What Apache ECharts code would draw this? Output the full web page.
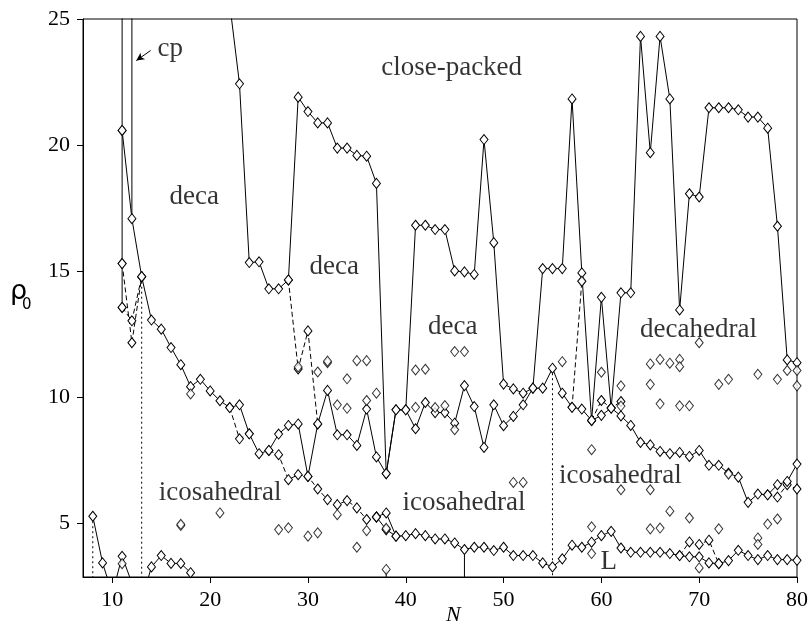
<!DOCTYPE html>
<html>
<head>
<meta charset="utf-8">
<script src="https://cdn.jsdelivr.net/npm/echarts@6/dist/echarts.min.js"></script>
<style>
html,body{margin:0;padding:0;background:#fff;}
#chart{width:811px;height:627px;}
</style>
</head>
<body>
<div id="chart"></div>
<script>
// ---- axis ticks ----
const xTicks = [10, 20, 30, 40, 50, 60, 70, 80];
const yTicks = [5, 10, 15, 20, 25];
const X_MIN = 7, X_MAX = 80, Y_MIN = 2.87, Y_MAX = 25;

// ---- solid boundary lines [N, rho0] ----
const cpBoundary = [[22,25.6],[23,22.43],[24,15.34],[25,15.37],[26,14.3],[27,14.3],[28,14.65],[29,21.9],[30,21.33],[31,20.88],[32,20.88],[33,19.88],[34,19.88],[35,19.59],[36,19.56],[37,18.48],[38,6.97],[39,9.5],[40,9.5],[41,16.82],[42,16.82],[43,16.65],[44,16.65],[45,15.01],[46,14.97],[47,14.87],[48,20.22],[49,16.13],[50,10.52],[51,10.33],[52,10.16],[53,10.36],[54,15.1],[55,15.1],[56,15.1],[57,21.83],[58,14.93],[59,9.08],[60,13.96],[61,9.57],[62,14.14],[63,14.14],[64,24.31],[65,19.7],[66,24.31],[67,21.83],[68,13.46],[69,18.07],[70,17.94],[71,21.48],[72,21.48],[73,21.48],[74,21.4],[75,21.11],[76,21.11],[77,20.67],[78,16.78],[79,11.48],[80,11.37]];
const decaBoundary = [[11,20.58],[12,17.08],[13,14.78],[14,13.06],[15,12.7],[16,11.97],[17,11.29],[18,10.42],[19,10.71],[20,10.25],[21,9.86],[22,9.59],[23,9.7],[24,8.55],[25,7.76],[26,7.89],[27,8.54],[28,8.88],[29,8.94],[30,6.86],[31,8.94],[32,10.27],[33,8.51],[34,8.51],[35,8.09],[36,9.53],[37,7.63],[38,6.97],[39,9.5],[40,9.5],[41,8.75],[42,9.79],[43,9.39],[44,9.39],[45,8.97],[46,10.46],[47,9.63],[48,8.01],[49,9.7],[50,8.87],[51,9.24],[52,9.7],[53,10.36],[54,10.36],[55,11.15],[56,10.16],[57,9.6],[58,9.53],[59,9.08],[60,9.28],[61,9.57],[62,9.26],[63,8.88],[64,8.21],[65,8.11],[66,7.85],[67,7.76],[68,7.81],[69,7.65],[70,7.89],[71,7.3],[72,7.3],[73,6.99],[74,6.83],[75,5.83],[76,6.16],[77,6.13],[78,6.53],[79,6.66],[80,7.35]];
const icosLower = [[37,5.25],[38,5.41],[39,4.49],[40,4.51],[41,4.59],[42,4.51],[43,4.38],[44,4.38],[45,4.22],[46,3.96],[47,4.05],[48,4.05],[49,3.92],[50,4.05],[51,3.72],[52,3.72],[53,3.72],[54,3.43],[55,3.27],[56,3.59],[57,4.13],[58,4.05],[59,4.25],[60,4.51],[61,4.68],[62,4.02],[63,3.85],[64,3.85],[65,3.85],[66,3.85],[67,3.8],[68,3.72],[69,3.67],[70,3.67],[71,3.43],[72,3.4],[73,3.52],[74,3.93],[75,3.72],[76,3.56],[77,3.72],[78,3.56],[79,3.56],[80,3.53]];
const icosLowerAlt = [[37,5.25],[38,4.75],[39,4.49]];
const smallN = [[8,5.28],[9,3.43],[10,2.2],[11,3.69],[12,2.63],[13,1.94],[14,3.27],[15,3.72],[16,3.41],[17,3.41],[18,3.04]];
const verticalN11 = [[11,27],[11,20.58],[11,15.3],[11,13.56]];
const verticalN12 = [[12,27],[12,17.08]];
const verticalN38 = [[38,3.17],[38,2]];
const verticalN46 = [[46,3.96],[46,2]];

// ---- dashed alternative paths ----
const dashedA = [[11,15.3],[12,12.16],[13,14.78]];
const dashedB = [[11,13.56],[12,13.03],[13,14.78]];
const dashedC = [[22,9.59],[23,8.35],[24,8.55]];
const dashedD = [[26,7.89],[27,7.72],[28,6.73],[29,6.93],[30,6.86],[31,6.36],[32,5.94],[33,5.74],[34,5.9],[35,5.61],[36,5.15],[37,5.25]];
const dashedE = [[28,14.65],[29,11.12],[30,12.63],[31,8.94]];
const dashedF = [[57,9.6],[58,14.6]];
const dashedG = [[59,9.08],[60,9.87],[61,9.57],[62,9.83]];
const dashedH = [[68,3.72],[69,4.26],[70,4.16],[71,4.33],[72,3.4]];
const dashedI = [[77,6.13],[78,6.04],[79,6.53],[80,6.36]];

// ---- dotted verticals ----
const dottedN8 = [[8,5.28],[8,2]];
const dottedN13 = [[13,14.78],[13,2]];
const dottedN55 = [[55,11.15],[55,2]];

// ---- isolated minima ----
const isolated = [[11,3.4],[17,4.91],[17,4.96],[18,10.13],[21,5.41],[27,4.75],[28,4.82],[29,11.2],[30,4.49],[31,4.62],[31,11.0],[32,11.37],[32,11.43],[33,9.7],[33,5.34],[34,10.73],[34,9.56],[35,11.45],[36,11.45],[36,9.87],[37,10.16],[35,4.05],[36,4.71],[38,4.75],[38,4.8],[41,11.08],[42,11.11],[41,9.6],[43,9.59],[44,9.67],[45,11.81],[46,11.81],[45,8.71],[51,6.62],[52,6.62],[56,11.41],[58,14.6],[59,7.92],[59,4.86],[59,3.8],[60,10.99],[62,10.45],[62,9.65],[62,6.33],[65,11.32],[66,11.5],[67,11.35],[68,11.5],[68,11.21],[65,10.51],[66,9.74],[68,9.66],[69,9.66],[70,12.16],[72,10.51],[73,10.71],[73,6.95],[76,10.91],[78,10.71],[79,11.06],[80,11.06],[80,10.45],[65,6.33],[67,5.48],[69,5.21],[65,4.78],[66,4.81],[72,4.78],[77,4.97],[78,5.17],[76,4.42],[76,4.16],[70,3.23],[38,3.17]];

// ---- region annotations ----
const regionText = ['cp', 'deca', 'close-packed', 'deca', 'deca', 'decahedral', 'icosahedral', 'icosahedral', 'icosahedral', 'L'];
const regionN = [15.92, 18.37, 44.69, 32.68, 44.81, 69.93, 21.02, 45.95, 61.94, 60.74];
const regionRho = [23.8, 17.94, 23.06, 15.17, 12.8, 12.67, 6.2, 5.81, 6.86, 3.48];
const cpArrow = [[13.91, 23.75], [12.45, 23.35]];

const SERIF = '"Liberation Serif","DejaVu Serif",serif';

function inRange(p) { return p[1] <= Y_MAX && p[1] >= Y_MIN; }

function lineSeries(data, dash, withSymbols) {
  return {
    type: 'line',
    data: data.map(p => ({ value: p, symbol: (withSymbols && inRange(p)) ? 'diamond' : 'none' })),
    symbolSize: [8, 10],
    showAllSymbol: true,
    lineStyle: { color: '#000', width: 1, type: dash },
    itemStyle: { color: '#fff', borderColor: '#000', borderWidth: 1 },
    clip: true,
    silent: true,
    z: withSymbols ? 3 : 2
  };
}

const series = [
  lineSeries(dottedN8, [2, 3], false),
  lineSeries(dottedN13, [2, 3], false),
  lineSeries(dottedN55, [2, 3], false),
  lineSeries(verticalN11, 'solid', true),
  lineSeries(verticalN12, 'solid', false),
  lineSeries(verticalN38, 'solid', false),
  lineSeries(verticalN46, 'solid', false),
  lineSeries(dashedA, [5, 3], true),
  lineSeries(dashedB, [5, 3], true),
  lineSeries(dashedC, [5, 3], true),
  lineSeries(dashedD, [5, 3], true),
  lineSeries(dashedE, [5, 3], true),
  lineSeries(dashedF, [5, 3], true),
  lineSeries(dashedG, [5, 3], true),
  lineSeries(dashedH, [5, 3], true),
  lineSeries(dashedI, [5, 3], true),
  lineSeries(cpBoundary, 'solid', true),
  lineSeries(decaBoundary, 'solid', true),
  lineSeries(icosLower, 'solid', true),
  lineSeries(icosLowerAlt, 'solid', true),
  lineSeries(smallN, 'solid', true),
  {
    type: 'scatter',
    data: isolated,
    symbol: 'diamond',
    symbolSize: [8, 10],
    itemStyle: { color: '#fff', borderColor: '#000', borderWidth: 1 },
    silent: true,
    z: 4
  },
  {
    type: 'scatter',
    data: regionText.map((t, i) => ({ value: [regionN[i], regionRho[i]], name: t })),
    symbolSize: 0,
    silent: true,
    z: 5,
    label: {
      show: true,
      position: 'inside',
      formatter: p => p.name,
      fontFamily: SERIF,
      fontSize: 27,
      color: '#000',
      textBorderWidth: 0
    },
    markLine: {
      silent: true,
      symbol: ['none', 'arrow'],
      symbolSize: [6, 8],
      label: { show: false },
      lineStyle: { color: '#000', width: 1, type: 'solid' },
      data: [[{ coord: cpArrow[0] }, { coord: cpArrow[1] }]]
    }
  }
];

const chart = echarts.init(document.getElementById('chart'), null, { renderer: 'canvas' });
chart.setOption({
  animation: false,
  backgroundColor: '#fff',
  grid: { left: 83, right: 13, top: 19, bottom: 50, show: true, borderColor: '#000', borderWidth: 1, backgroundColor: 'transparent' },
  xAxis: {
    type: 'value', min: X_MIN, max: X_MAX,
    axisLine: { show: true, onZero: false, lineStyle: { color: '#000', width: 1 } },
    axisTick: { show: true, length: 6, inside: false, customValues: xTicks, lineStyle: { color: '#000' } },
    axisLabel: { customValues: xTicks, fontFamily: SERIF, fontSize: 22, color: '#000', margin: 12 },
    splitLine: { show: false }
  },
  yAxis: {
    type: 'value', min: Y_MIN, max: Y_MAX,
    axisLine: { show: true, onZero: false, lineStyle: { color: '#000', width: 1 } },
    axisTick: { show: true, length: 6, inside: false, customValues: yTicks, lineStyle: { color: '#000' } },
    axisLabel: { customValues: yTicks, fontFamily: SERIF, fontSize: 22, color: '#000', margin: 13 },
    splitLine: { show: false }
  },
  graphic: [
    { type: 'text', left: 446, top: 604, style: { text: 'N', font: 'italic 22px ' + SERIF, fill: '#000' } },
    { type: 'text', left: 10, top: 278, style: { text: 'ρ', font: '27px "DejaVu Sans",sans-serif', fill: '#000' } },
    { type: 'text', left: 22, top: 298, style: { text: '0', font: '15px "DejaVu Sans",sans-serif', fill: '#000' } }
  ],
  series: series
});
</script>
</body>
</html>
